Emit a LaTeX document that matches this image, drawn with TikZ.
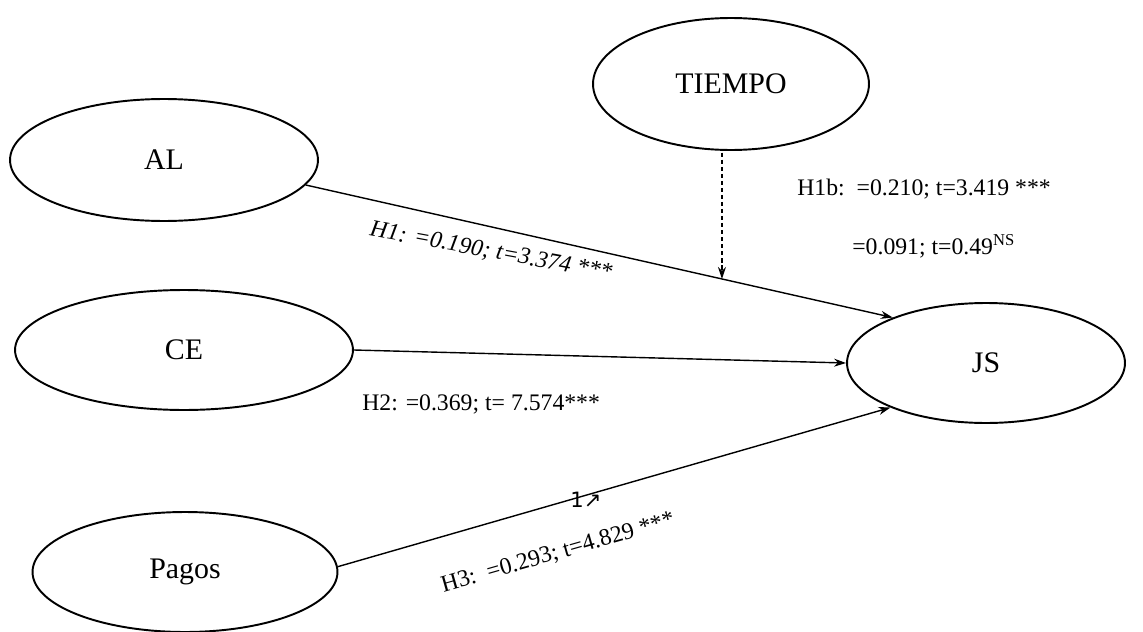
\documentclass[tikz,border=0pt]{standalone}
\usepackage{fontspec}
\setmainfont{Liberation Serif}
\newfontfamily\symfont{DejaVu Sans}
\usetikzlibrary{shapes.geometric,arrows.meta}
\tikzset{
latent/.style={draw,ellipse,line width=1.1pt,inner sep=0pt,font=\fontsize{17}{20}\selectfont},
effect/.style={-{Stealth[length=0.24cm,width=0.16cm]},line width=0.8pt},
coef/.style={inner sep=0pt,font=\fontsize{13.5}{16}\selectfont}
}
\begin{document}
\begin{tikzpicture}[x=0.02cm,y=-0.02cm]
\useasboundingbox (0,0) rectangle (1143,632);
\node[latent,minimum width=6.16cm,minimum height=2.44cm] (al) at (164,160) {AL};
\node[latent,minimum width=6.76cm,minimum height=2.4cm] (ce) at (184,350) {CE};
\node[latent,minimum width=6.1cm,minimum height=2.4cm] (pagos) at (185,572) {Pagos};
\node[latent,minimum width=5.52cm,minimum height=2.64cm] (tiempo) at (731,84) {TIEMPO};
\node[latent,minimum width=5.56cm,minimum height=2.4cm] (js) at (986,363) {JS};
\draw[effect] (al.-10) -- (js.154) coordinate[pos=0.709] (hit);
\draw[effect] (ce.east) -- (js.west);
\draw[effect] (pagos.2) -- (js.205);
\draw[effect,dash pattern=on 2.5pt off 1.5pt,shorten <=1pt] (hit |- tiempo.south) -- (hit);
\node[coef,rotate=-10.4,font=\fontsize{13.5}{16}\selectfont\itshape] (h1) at (491,252) {H1: =0.190; t=3.374 ***};
\node[coef,anchor=west] (h1b) at (797,189) {H1b:\ \ =0.210; t=3.419 ***};
\node[coef,anchor=west] (h1bns) at (852,246) {=0.091; t=0.49\textsuperscript{NS}};
\node[coef,anchor=west] (h2) at (362,404) {H2: =0.369; t= 7.574***};
\node[coef,rotate=16] (h3) at (558,553) {H3:\ \ =0.293; t=4.829 ***};
\node[inner sep=0pt,font=\symfont\fontsize{12}{14}\selectfont] (mark) at (586,500) {1↗};
\end{tikzpicture}
\end{document}
